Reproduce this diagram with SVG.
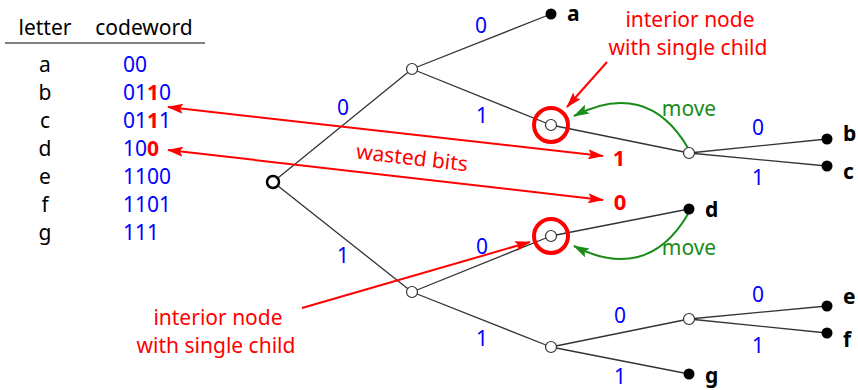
<svg xmlns="http://www.w3.org/2000/svg" width="858" height="390" viewBox="0 0 858 390">
<style>
  text { font-family: "Noto Sans", "DejaVu Sans", sans-serif; }
  .hdr { font-size: 21px; fill: #000; text-anchor: middle; }
  .let { font-size: 21px; fill: #000; text-anchor: middle; }
  .cw { font-size: 21px; fill: #0000ff; }
  .rb { fill: #ff0000; font-weight: bold; }
  .bl { font-size: 21px; fill: #0000ff; text-anchor: middle; }
  .leaf { font-size: 21px; font-weight: bold; fill: #000; }
  .red { font-size: 21px; fill: #ff0000; text-anchor: middle; }
  .grn { font-size: 21px; fill: #1a8c1a; text-anchor: middle; }
  .edge { stroke: #333; stroke-width: 1.3; fill: none; }
  .inner { fill: #fff; stroke: #333; stroke-width: 1.2; }
  .leafdot { fill: #000; }
  .ring { fill: none; stroke: #ff0000; stroke-width: 4; }
  .rarrow { stroke: #ff0000; stroke-width: 2; fill: none; }
  .garrow { stroke: #1a8c1a; stroke-width: 2; fill: none; }
</style>
<defs>
  <marker id="ra" viewBox="0 0 16 10" refX="15" refY="5" markerWidth="16" markerHeight="10" markerUnits="userSpaceOnUse" orient="auto-start-reverse">
    <path d="M0,0 L16,5 L0,10 L3,5 z" fill="#ff0000"/>
  </marker>
  <marker id="ga" viewBox="0 0 16 10" refX="15" refY="5" markerWidth="16" markerHeight="10" markerUnits="userSpaceOnUse" orient="auto">
    <path d="M0,0 L16,5 L0,10 L3,5 z" fill="#1a8c1a"/>
  </marker>
</defs>

<g id="table">
  <text class="hdr" x="45" y="35">letter</text>
  <text class="hdr" x="144" y="35">codeword</text>
  <line x1="5" y1="43" x2="205" y2="43" stroke="#000" stroke-width="1.2"/>
  <text class="let" x="45" y="72">a</text>
  <text class="let" x="45" y="100">b</text>
  <text class="let" x="45" y="128">c</text>
  <text class="let" x="45" y="156">d</text>
  <text class="let" x="45" y="184">e</text>
  <text class="let" x="45" y="212">f</text>
  <text class="let" x="45" y="240">g</text>
  <text class="cw" x="123" y="72">00</text>
  <text class="cw" x="123" y="100">01<tspan class="rb">1</tspan>0</text>
  <text class="cw" x="123" y="128">01<tspan class="rb">1</tspan>1</text>
  <text class="cw" x="123" y="156">10<tspan class="rb">0</tspan></text>
  <text class="cw" x="123" y="184">1100</text>
  <text class="cw" x="123" y="212">1101</text>
  <text class="cw" x="123" y="240">111</text>
</g>

<g id="connectors">
  <line class="edge" x1="273" y1="182" x2="412" y2="69"/>
  <line class="edge" x1="273" y1="182" x2="412" y2="292"/>
  <line class="edge" x1="412" y1="69" x2="551" y2="14"/>
  <line class="edge" x1="412" y1="69" x2="551" y2="125"/>
  <line class="edge" x1="551" y1="125" x2="689" y2="153"/>
  <line class="edge" x1="689" y1="153" x2="827" y2="139"/>
  <line class="edge" x1="689" y1="153" x2="827" y2="166"/>
  <line class="edge" x1="412" y1="292" x2="551" y2="236"/>
  <line class="edge" x1="412" y1="292" x2="551" y2="347"/>
  <line class="edge" x1="551" y1="236" x2="689" y2="209"/>
  <line class="edge" x1="551" y1="347" x2="689" y2="319"/>
  <line class="edge" x1="551" y1="347" x2="689" y2="374"/>
  <line class="edge" x1="689" y1="319" x2="827" y2="306"/>
  <line class="edge" x1="689" y1="319" x2="827" y2="333"/>

  <text class="bl" x="481" y="33">0</text>
  <text class="bl" x="343" y="115">0</text>
  <text class="bl" x="482" y="123">1</text>
  <text class="bl" x="343" y="263">1</text>
  <text class="bl" x="482" y="254">0</text>
  <text class="bl" x="482" y="346">1</text>
  <text class="bl" x="758" y="135">0</text>
  <text class="bl" x="758" y="185">1</text>
  <text class="bl" x="620" y="323">0</text>
  <text class="bl" x="620" y="384">1</text>
  <text class="bl" x="758" y="302">0</text>
  <text class="bl" x="758" y="353">1</text>

  <path class="garrow" d="M688,148 C660,100 620,92 574,116" marker-end="url(#ga)"/>
  <path class="garrow" d="M688,214 C660,262 620,270 574,246" marker-end="url(#ga)"/>
  <text class="grn" x="689" y="116">move</text>
  <text class="grn" x="689" y="255">move</text>

  <line class="rarrow" x1="168" y1="107" x2="603" y2="156" marker-start="url(#ra)" marker-end="url(#ra)"/>
  <line class="rarrow" x1="168" y1="150" x2="603" y2="200" marker-start="url(#ra)" marker-end="url(#ra)"/>
  <text class="red" transform="translate(412,158) rotate(6.5)" x="0" y="7">wasted bits</text>
  <text class="red" x="619" y="166" style="font-weight:bold;font-size:22px">1</text>
  <text class="red" x="620" y="210" style="font-weight:bold;font-size:22px">0</text>

  <line class="rarrow" x1="607" y1="62" x2="567" y2="107" marker-end="url(#ra)"/>
  <line class="rarrow" x1="302" y1="308" x2="530" y2="242" marker-end="url(#ra)"/>
</g>

<g id="label-top">
  <text class="red" x="690" y="27">interior node</text>
  <text class="red" x="688" y="55">with single child</text>
</g>
<g id="label-bottom">
  <text class="red" x="218" y="325">interior node</text>
  <text class="red" x="216" y="353">with single child</text>
</g>

<g id="root"><circle cx="273" cy="182" r="6" fill="#fff" stroke="#000" stroke-width="2.5"/></g>
<g id="n0"><circle class="inner" cx="412" cy="69" r="5.5"/></g>
<g id="n1"><circle class="inner" cx="412" cy="292" r="5.5"/></g>
<g id="n01"><circle class="ring" cx="551" cy="125" r="17"/><circle class="inner" cx="551" cy="125" r="5.5"/></g>
<g id="n10"><circle class="ring" cx="551" cy="236" r="17"/><circle class="inner" cx="551" cy="236" r="5.5"/></g>
<g id="n011"><circle class="inner" cx="689" cy="153" r="5.5"/></g>
<g id="n11"><circle class="inner" cx="551" cy="347" r="5.5"/></g>
<g id="n110"><circle class="inner" cx="689" cy="319" r="5.5"/></g>

<g id="leaf-a"><circle class="leafdot" cx="551" cy="14" r="5.5"/><text class="leaf" x="567" y="21">a</text></g>
<g id="leaf-b"><circle class="leafdot" cx="827" cy="139" r="5.5"/><text class="leaf" x="843" y="141">b</text></g>
<g id="leaf-c"><circle class="leafdot" cx="827" cy="166" r="5.5"/><text class="leaf" x="843" y="179">c</text></g>
<g id="leaf-d"><circle class="leafdot" cx="689" cy="209" r="5.5"/><text class="leaf" x="705" y="217">d</text></g>
<g id="leaf-e"><circle class="leafdot" cx="827" cy="306" r="5.5"/><text class="leaf" x="843" y="304">e</text></g>
<g id="leaf-f"><circle class="leafdot" cx="827" cy="333" r="5.5"/><text class="leaf" x="843" y="347">f</text></g>
<g id="leaf-g"><circle class="leafdot" cx="689" cy="374" r="5.5"/><text class="leaf" x="705" y="383">g</text></g>
</svg>
